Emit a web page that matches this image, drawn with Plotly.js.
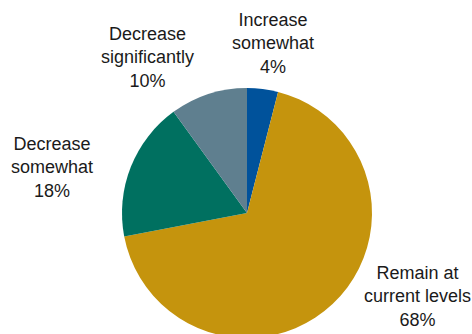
<!DOCTYPE html>
<html>
<head>
<meta charset="utf-8">
<script src="https://cdn.plot.ly/plotly-3.0.1.min.js"></script>
<style>
html,body{margin:0;padding:0;overflow:hidden;background:#fff;}
#chart{width:472px;height:360px;}
</style>
</head>
<body>
<div id="chart"></div>
<script>
var categories = ["Increase<br>somewhat", "Remain at<br>current levels", "Decrease<br>somewhat", "Decrease<br>significantly"];
var shares = [4, 68, 18, 10];
var colors = ["#00529b", "#c5940d", "#007060", "#5f7f8f"];

var W = 472, H = 360;
// label anchor positions in pixels (layout only)
var labelPos = [[273, 43], [417, 296], [52, 167], [147, 58]];

var annotations = categories.map(function(c, i){
  return {
    text: c + "<br>" + shares[i] + "%",
    xref: "paper", yref: "paper",
    x: labelPos[i][0] / W, y: 1 - labelPos[i][1] / H,
    xanchor: "center", yanchor: "middle",
    showarrow: false, align: "center",
    font: {family: "Liberation Sans, Arial, sans-serif", size: 18, color: "#1a1a1a"}
  };
});

var trace = {
  type: "pie",
  labels: categories,
  values: shares,
  sort: false,
  direction: "clockwise",
  rotation: 0,
  textinfo: "none",
  hoverinfo: "label+percent",
  marker: {colors: colors, line: {width: 0}},
  domain: {x: [122 / W, 372 / W], y: [22 / H, 272 / H]}
};

var layout = {
  width: W, height: H,
  margin: {l: 0, r: 0, t: 0, b: 0},
  showlegend: false,
  paper_bgcolor: "#ffffff",
  annotations: annotations
};

Plotly.newPlot("chart", [trace], layout, {displayModeBar: false, staticPlot: true});
</script>
</body>
</html>
